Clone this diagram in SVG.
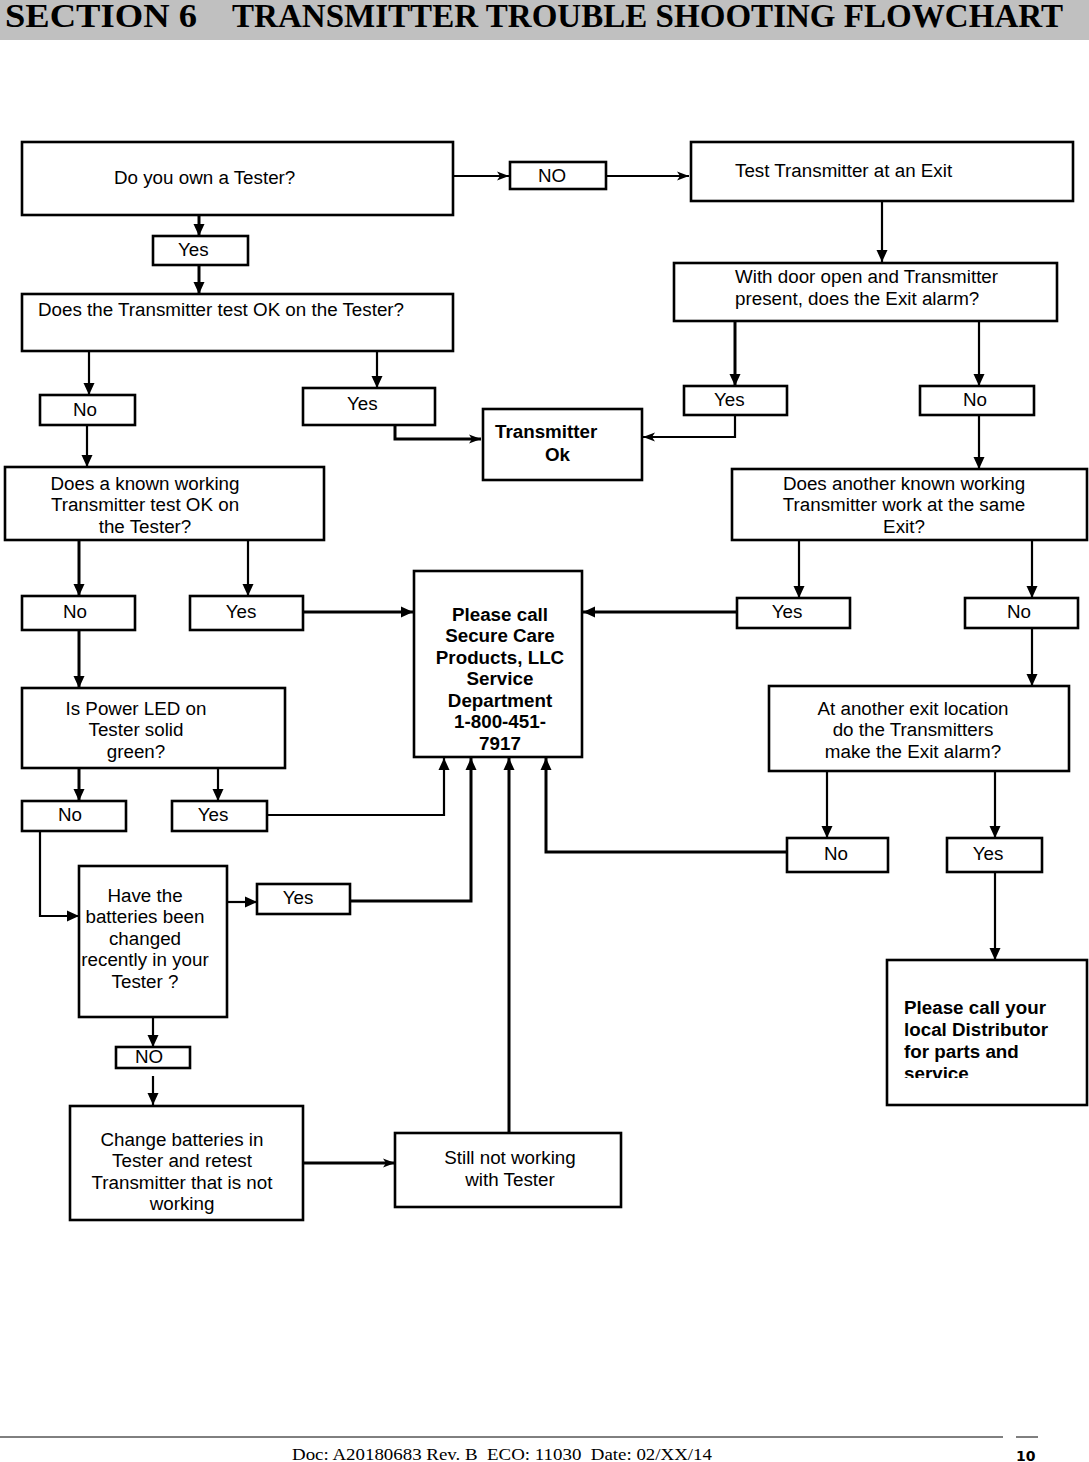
<svg xmlns="http://www.w3.org/2000/svg" width="1089" height="1462" viewBox="0 0 1089 1462">
<style>
.box{fill:#fff;stroke:#000;stroke-width:2.6}
.lbl{fill:#fff;stroke:#000;stroke-width:2.6}
.t{font-family:"Liberation Sans",Arial,sans-serif;font-size:18.8px;fill:#000}
.c{text-anchor:middle}
.b{font-weight:bold}
.ln{fill:none;stroke:#000;stroke-width:2.2}
.lt{fill:none;stroke:#000;stroke-width:3}
</style>
<defs>
<marker id="ah" markerUnits="userSpaceOnUse" markerWidth="14" markerHeight="14" viewBox="0 0 14 14" refX="12" refY="7" orient="auto">
<path d="M0,1.5 L12,7 L0,12.5 Z" fill="#000"/>
</marker>
<marker id="an" markerUnits="userSpaceOnUse" markerWidth="14" markerHeight="14" viewBox="0 0 14 14" refX="12" refY="7" orient="auto">
<path d="M0,2.5 L12,7 L0,11.5 L3,7 Z" fill="#000"/>
</marker>
<clipPath id="clipd"><rect x="887" y="960" width="200" height="118"/></clipPath>
</defs>

<g id="header">
<rect x="0" y="0" width="1089" height="40" fill="#c0c0c0"/>
<text x="5" y="27" font-family="Liberation Serif,Times New Roman,serif" font-weight="bold" font-size="33" textLength="192" lengthAdjust="spacingAndGlyphs">SECTION 6</text>
<text x="232" y="27" font-family="Liberation Serif,Times New Roman,serif" font-weight="bold" font-size="33" textLength="831" lengthAdjust="spacingAndGlyphs">TRANSMITTER TROUBLE SHOOTING FLOWCHART</text>
</g>

<g id="connectors">
<path class="ln" d="M453,176 H509" marker-end="url(#an)"/>
<path class="ln" d="M606,176 H689" marker-end="url(#an)"/>
<path class="lt" d="M199,215 V236" marker-end="url(#ah)"/>
<path class="lt" d="M199,265 V294" marker-end="url(#ah)"/>
<path class="ln" d="M882,201 V262" marker-end="url(#ah)"/>
<path class="ln" d="M89,351 V395" marker-end="url(#ah)"/>
<path class="ln" d="M377,351 V388" marker-end="url(#ah)"/>
<path class="lt" d="M395,425 V439 H481" marker-end="url(#an)"/>
<path class="lt" d="M735,321 V386" marker-end="url(#ah)"/>
<path class="ln" d="M979,321 V386" marker-end="url(#ah)"/>
<path class="ln" d="M735,415 V437 H643" marker-end="url(#an)"/>
<path class="ln" d="M87,425 V467" marker-end="url(#ah)"/>
<path class="ln" d="M979,415 V469" marker-end="url(#ah)"/>
<path class="lt" d="M79,540 V596" marker-end="url(#ah)"/>
<path class="ln" d="M248,540 V596" marker-end="url(#ah)"/>
<path class="lt" d="M303,612 H413" marker-end="url(#ah)"/>
<path class="ln" d="M799,540 V598" marker-end="url(#ah)"/>
<path class="ln" d="M1032,540 V598" marker-end="url(#ah)"/>
<path class="lt" d="M737,612 H583" marker-end="url(#ah)"/>
<path class="lt" d="M79,630 V688" marker-end="url(#ah)"/>
<path class="ln" d="M1032,628 V686" marker-end="url(#ah)"/>
<path class="lt" d="M79,768 V801" marker-end="url(#ah)"/>
<path class="ln" d="M218,768 V801" marker-end="url(#ah)"/>
<path class="ln" d="M827,771 V838" marker-end="url(#ah)"/>
<path class="ln" d="M995,771 V838" marker-end="url(#ah)"/>
<path class="ln" d="M267,815 H444 V758" marker-end="url(#ah)"/>
<path class="lt" d="M350,901 H471 V758" marker-end="url(#ah)"/>
<path class="lt" d="M509,1133 V758" marker-end="url(#ah)"/>
<path class="lt" d="M787,852 H546 V758" marker-end="url(#ah)"/>
<path class="ln" d="M995,872 V960" marker-end="url(#ah)"/>
<path class="ln" d="M227,902 H257" marker-end="url(#ah)"/>
<path class="ln" d="M40,831 V916 H79" marker-end="url(#ah)"/>
<path class="ln" d="M153,1017 V1047" marker-end="url(#ah)"/>
<path class="ln" d="M153,1076 V1105" marker-end="url(#ah)"/>
<path class="lt" d="M303,1163 H395" marker-end="url(#an)"/>
</g>

<g id="n_own">
<rect class="box" x="22" y="142" width="431" height="73"/>
<text class="t" x="114" y="184">Do you own a Tester?</text>
</g>
<g id="l_no_top">
<rect class="lbl" x="510" y="162" width="96" height="27"/>
<text class="t" x="538" y="182">NO</text>
</g>
<g id="n_exit">
<rect class="box" x="691" y="142" width="382" height="59"/>
<text class="t" x="735" y="177">Test Transmitter at an Exit</text>
</g>
<g id="l_yes1">
<rect class="lbl" x="153" y="236" width="95" height="29"/>
<text class="t" x="178" y="256">Yes</text>
</g>
<g id="n_testok">
<rect class="box" x="22" y="294" width="431" height="57"/>
<text class="t" x="38" y="316">Does the Transmitter test OK on the Tester?</text>
</g>
<g id="n_door">
<rect class="box" x="674" y="263" width="383" height="58"/>
<text class="t" x="735" y="283">With door open and Transmitter</text>
<text class="t" x="735" y="305">present, does the Exit alarm?</text>
</g>
<g id="l_no2">
<rect class="lbl" x="40" y="395" width="95" height="30"/>
<text class="t c" x="85" y="416">No</text>
</g>
<g id="l_yes2">
<rect class="lbl" x="303" y="388" width="132" height="37"/>
<text class="t" x="347" y="410">Yes</text>
</g>
<g id="n_txok">
<rect class="box" x="483" y="409" width="159" height="71"/>
<text class="t b" x="495" y="438">Transmitter</text>
<text class="t b" x="545" y="461">Ok</text>
</g>
<g id="l_yes3">
<rect class="lbl" x="684" y="386" width="103" height="29"/>
<text class="t" x="714" y="406">Yes</text>
</g>
<g id="l_no3">
<rect class="lbl" x="920" y="386" width="114" height="29"/>
<text class="t" x="963" y="406">No</text>
</g>
<g id="n_known">
<rect class="box" x="5" y="467" width="319" height="73"/>
<text class="t c" x="145" y="490">Does a known working</text>
<text class="t c" x="145" y="511">Transmitter test OK on</text>
<text class="t c" x="145" y="533">the Tester?</text>
</g>
<g id="n_another">
<rect class="box" x="732" y="469" width="355" height="71"/>
<text class="t c" x="904" y="490">Does another known working</text>
<text class="t c" x="904" y="511">Transmitter work at the same</text>
<text class="t c" x="904" y="533">Exit?</text>
</g>
<g id="l_no4">
<rect class="lbl" x="22" y="596" width="113" height="34"/>
<text class="t c" x="75" y="618">No</text>
</g>
<g id="l_yes4">
<rect class="lbl" x="190" y="596" width="113" height="34"/>
<text class="t c" x="241" y="618">Yes</text>
</g>
<g id="n_call">
<rect class="box" x="414" y="571" width="168" height="186"/>
<text class="t b c" x="500" y="621">Please call</text>
<text class="t b c" x="500" y="642">Secure Care</text>
<text class="t b c" x="500" y="664">Products, LLC</text>
<text class="t b c" x="500" y="685">Service</text>
<text class="t b c" x="500" y="707">Department</text>
<text class="t b c" x="500" y="728">1-800-451-</text>
<text class="t b c" x="500" y="750">7917</text>
</g>
<g id="l_yes5">
<rect class="lbl" x="737" y="598" width="113" height="30"/>
<text class="t c" x="787" y="618">Yes</text>
</g>
<g id="l_no5">
<rect class="lbl" x="965" y="598" width="113" height="30"/>
<text class="t c" x="1019" y="618">No</text>
</g>
<g id="n_led">
<rect class="box" x="22" y="688" width="263" height="80"/>
<text class="t c" x="136" y="715">Is Power LED on</text>
<text class="t c" x="136" y="736">Tester solid</text>
<text class="t c" x="136" y="758">green?</text>
</g>
<g id="n_otherexit">
<rect class="box" x="769" y="686" width="300" height="85"/>
<text class="t c" x="913" y="715">At another exit location</text>
<text class="t c" x="913" y="736">do the Transmitters</text>
<text class="t c" x="913" y="758">make the Exit alarm?</text>
</g>
<g id="l_no6">
<rect class="lbl" x="22" y="801" width="104" height="30"/>
<text class="t c" x="70" y="821">No</text>
</g>
<g id="l_yes6">
<rect class="lbl" x="172" y="801" width="95" height="30"/>
<text class="t c" x="213" y="821">Yes</text>
</g>
<g id="l_no7">
<rect class="lbl" x="787" y="838" width="101" height="34"/>
<text class="t c" x="836" y="860">No</text>
</g>
<g id="l_yes7">
<rect class="lbl" x="947" y="838" width="95" height="34"/>
<text class="t c" x="988" y="860">Yes</text>
</g>
<g id="n_batt">
<rect class="box" x="79" y="866" width="148" height="151"/>
<text class="t c" x="145" y="902">Have the</text>
<text class="t c" x="145" y="923">batteries been</text>
<text class="t c" x="145" y="945">changed</text>
<text class="t c" x="145" y="966">recently in your</text>
<text class="t c" x="145" y="988">Tester ?</text>
</g>
<g id="l_yes8">
<rect class="lbl" x="257" y="884" width="93" height="30"/>
<text class="t c" x="298" y="904">Yes</text>
</g>
<g id="l_no8">
<rect class="lbl" x="116" y="1047" width="74" height="21"/>
<text class="t c" x="149" y="1063">NO</text>
</g>
<g id="n_change">
<rect class="box" x="70" y="1106" width="233" height="114"/>
<text class="t c" x="182" y="1146">Change batteries in</text>
<text class="t c" x="182" y="1167">Tester and retest</text>
<text class="t c" x="182" y="1189">Transmitter that is not</text>
<text class="t c" x="182" y="1210">working</text>
</g>
<g id="n_still">
<rect class="box" x="395" y="1133" width="226" height="74"/>
<text class="t c" x="510" y="1164">Still not working</text>
<text class="t c" x="510" y="1186">with Tester</text>
</g>
<g id="n_distrib">
<rect class="box" x="887" y="960" width="200" height="145"/>
<g clip-path="url(#clipd)">
<text class="t b" x="904" y="1014">Please call your</text>
<text class="t b" x="904" y="1036">local Distributor</text>
<text class="t b" x="904" y="1058">for parts and</text>
<text class="t b" x="904" y="1080">service</text>
</g>
</g>

<g id="footer">
<line x1="0" y1="1437" x2="1003" y2="1437" stroke="#000" stroke-width="1"/>
<line x1="1016" y1="1437" x2="1038" y2="1437" stroke="#000" stroke-width="1"/>
<text x="292" y="1460" font-family="Liberation Serif,Times New Roman,serif" font-size="17" xml:space="preserve" textLength="420" lengthAdjust="spacingAndGlyphs">Doc: A20180683 Rev. B  ECO: 11030  Date: 02/XX/14</text>
<text x="1016" y="1461" font-family="DejaVu Sans,sans-serif" font-weight="bold" font-size="14">10</text>
</g>
</svg>
